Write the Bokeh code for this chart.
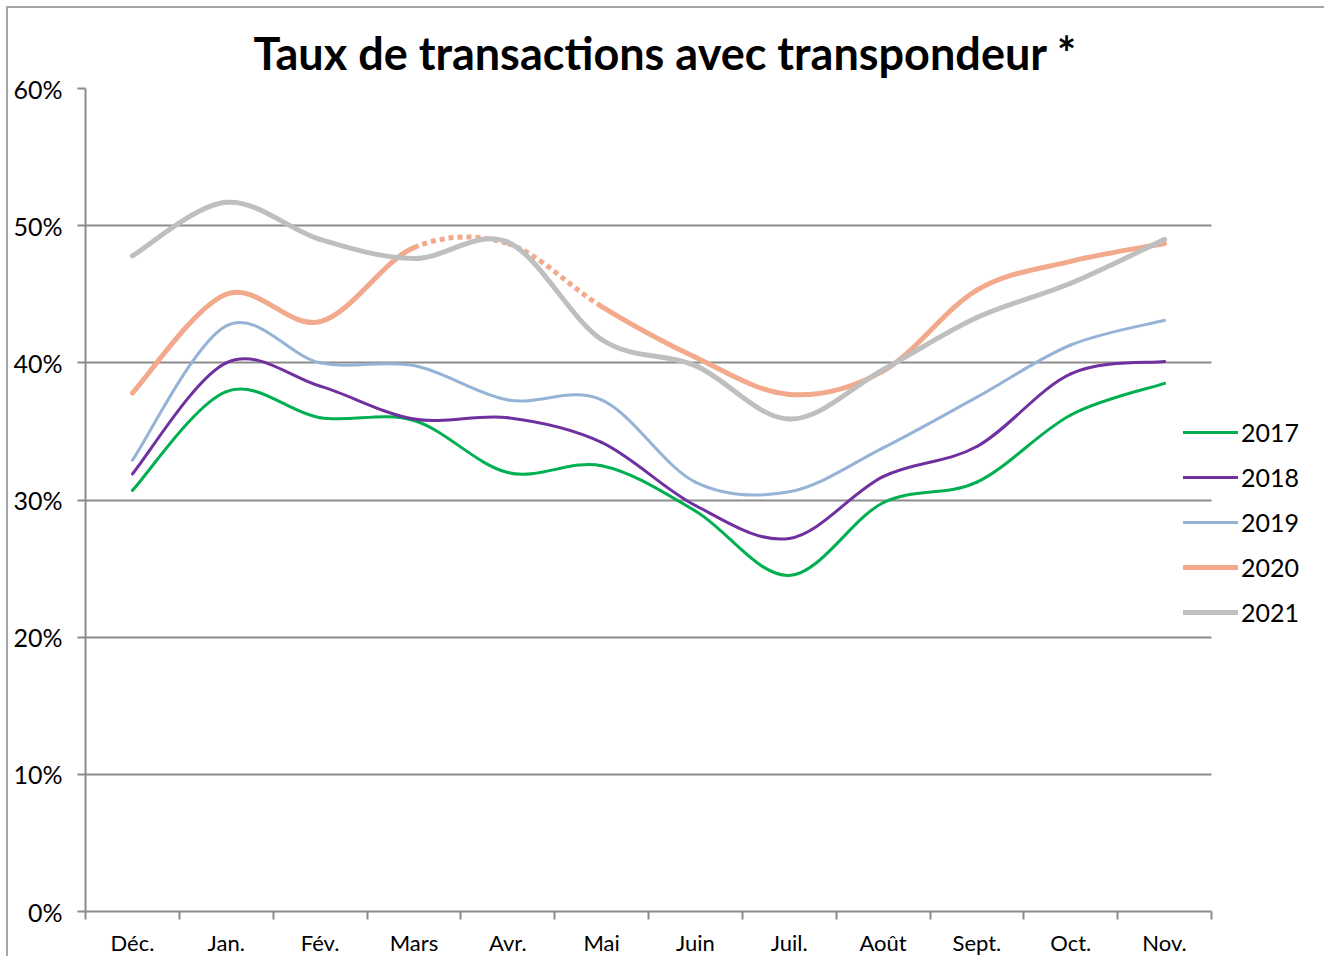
from bokeh.plotting import figure
from bokeh.models import Range1d, FixedTicker, Legend, LegendItem
from bokeh.embed import file_html
from bokeh.resources import INLINE

# ---------------- data ----------------
months = ["Déc.", "Jan.", "Fév.", "Mars", "Avr.", "Mai", "Juin", "Juil.", "Août", "Sept.", "Oct.", "Nov."]
y2017 = [30.7, 37.9, 36.0, 35.8, 32.0, 32.5, 29.2, 24.5, 29.8, 31.3, 36.2, 38.5]
y2018 = [31.9, 40.0, 38.3, 35.9, 36.0, 34.2, 29.6, 27.2, 31.7, 33.9, 39.2, 40.1]
y2019 = [32.9, 42.7, 40.0, 39.8, 37.3, 37.3, 31.3, 30.6, 33.8, 37.5, 41.3, 43.1]
y2020 = [37.8, 45.0, 43.0, 48.4, 48.7, 44.1, 40.4, 37.7, 39.4, 45.3, 47.4, 48.7]
y2021 = [47.8, 51.7, 49.0, 47.6, 48.8, 41.7, 39.8, 35.9, 39.5, 43.3, 45.8, 49.0]
years = ["2017", "2018", "2019", "2020", "2021"]
dotted_2020 = [3, 4]          # segments Mars->Avr, Avr->Mai drawn dotted
y_ticks = [0, 10, 20, 30, 40, 50, 60]
y_tick_labels = ["0%", "10%", "20%", "30%", "40%", "50%", "60%"]
title_text = "Taux de transactions avec transpondeur *"

# ---------------- style ----------------
colors = ["#00B050", "#7030A0", "#95B3D7", "#F2A98C", "#BFBFBF"]
widths = [3, 3, 3, 5, 5]
FONT = "Lato"
GRID = "#8C8C8C"

W, H = 1318, 950
FRAME_LEFT = 77
FRAME_W = W - FRAME_LEFT
N = len(months)
x_end = N * FRAME_W / 1126.0

p = figure(width=W, height=H, output_backend="svg", toolbar_location=None,
           x_range=Range1d(0, x_end), y_range=Range1d(0, 60),
           min_border_left=FRAME_LEFT, min_border_right=0, min_border_top=80,
           min_border_bottom=44)
p.styles = {"margin-left": "6px", "margin-top": "6px",
            "border-left": "2px solid #A6A6A6", "border-top": "2px solid #A6A6A6"}
p.outline_line_color = None
p.background_fill_color = "white"
p.border_fill_color = "white"

# title
p.title.text = title_text
p.title.text_font = FONT
p.title.text_font_style = "bold"
p.title.text_font_size = "45px"
p.title.text_color = "black"
p.title.align = "left"
p.title.offset = 168
p.title.standoff = 17

# x axis
xax = p.xaxis[0]
xax.ticker = FixedTicker(ticks=[i + 0.5 for i in range(N)], minor_ticks=list(range(N + 1)))
xax.major_label_overrides = {i + 0.5: m for i, m in enumerate(months)}
xax.bounds = (0, N)
xax.axis_line_color = GRID
xax.axis_line_width = 2
xax.major_tick_line_color = None
xax.major_tick_out = 0
xax.major_tick_in = 0
xax.minor_tick_line_color = GRID
xax.minor_tick_line_width = 2
xax.minor_tick_out = 8
xax.minor_tick_in = 0
xax.major_label_text_font = FONT
xax.major_label_text_font_size = "22px"
xax.major_label_text_color = "black"
xax.major_label_standoff = 9

# y axis
yax = p.yaxis[0]
yax.ticker = FixedTicker(ticks=y_ticks, minor_ticks=[])
yax.major_label_overrides = {t: l for t, l in zip(y_ticks, y_tick_labels)}
yax.axis_line_color = GRID
yax.axis_line_width = 2
yax.major_tick_line_color = GRID
yax.major_tick_line_width = 2
yax.major_tick_out = 8
yax.major_tick_in = 0
yax.minor_tick_line_color = None
yax.major_label_text_font = FONT
yax.major_label_text_font_size = "25px"
yax.major_label_text_color = "black"
yax.major_label_standoff = 15

p.xgrid.visible = False
p.ygrid.ticker = FixedTicker(ticks=y_ticks, minor_ticks=[])
p.ygrid.grid_line_color = GRID
p.ygrid.grid_line_width = 2
p.ygrid.cross_bounds = (0, N)


def bezier_parts(vals):
    xs = [i + 0.5 for i in range(len(vals))]
    n = len(vals)
    segs = []
    for i in range(n - 1):
        xm, ym = (xs[i - 1], vals[i - 1]) if i > 0 else (xs[i], vals[i])
        xp, yp = (xs[i + 2], vals[i + 2]) if i + 2 < n else (xs[i + 1], vals[i + 1])
        cx0 = xs[i] + (xs[i + 1] - xm) / 6.0
        cy0 = vals[i] + (vals[i + 1] - ym) / 6.0
        cx1 = xs[i + 1] - (xp - xs[i]) / 6.0
        cy1 = vals[i + 1] - (yp - vals[i]) / 6.0
        segs.append((xs[i], vals[i], xs[i + 1], vals[i + 1], cx0, cy0, cx1, cy1))
    return segs


def draw(segs, idx, color, width, dash="solid", cap="round"):
    sel = [segs[i] for i in idx]
    cols = list(zip(*sel))
    return p.bezier(x0=list(cols[0]), y0=list(cols[1]), x1=list(cols[2]), y1=list(cols[3]),
                    cx0=list(cols[4]), cy0=list(cols[5]), cx1=list(cols[6]), cy1=list(cols[7]),
                    line_color=color, line_width=width, line_dash=dash, line_cap=cap)


series = [y2017, y2018, y2019, y2020, y2021]
items = []
for yr, vals, c, w in zip(years, series, colors, widths):
    segs = bezier_parts(vals)
    if yr == "2020":
        solid_idx = [i for i in range(len(segs)) if i not in dotted_2020]
        r = draw(segs, solid_idx, c, w)
        draw(segs, dotted_2020, c, w, dash="5 4", cap="butt")
    else:
        r = draw(segs, list(range(len(segs))), c, w)
    items.append(LegendItem(label=yr, renderers=[r]))

legend = Legend(items=items, location=(1098, 284), orientation="vertical",
                glyph_width=55, glyph_height=28, label_standoff=3, spacing=15,
                padding=0, margin=0, border_line_color=None, background_fill_alpha=0,
                label_text_font=FONT, label_text_font_size="25px", label_text_color="black")
p.add_layout(legend)

open("out.html", "w").write(file_html(p, INLINE))
